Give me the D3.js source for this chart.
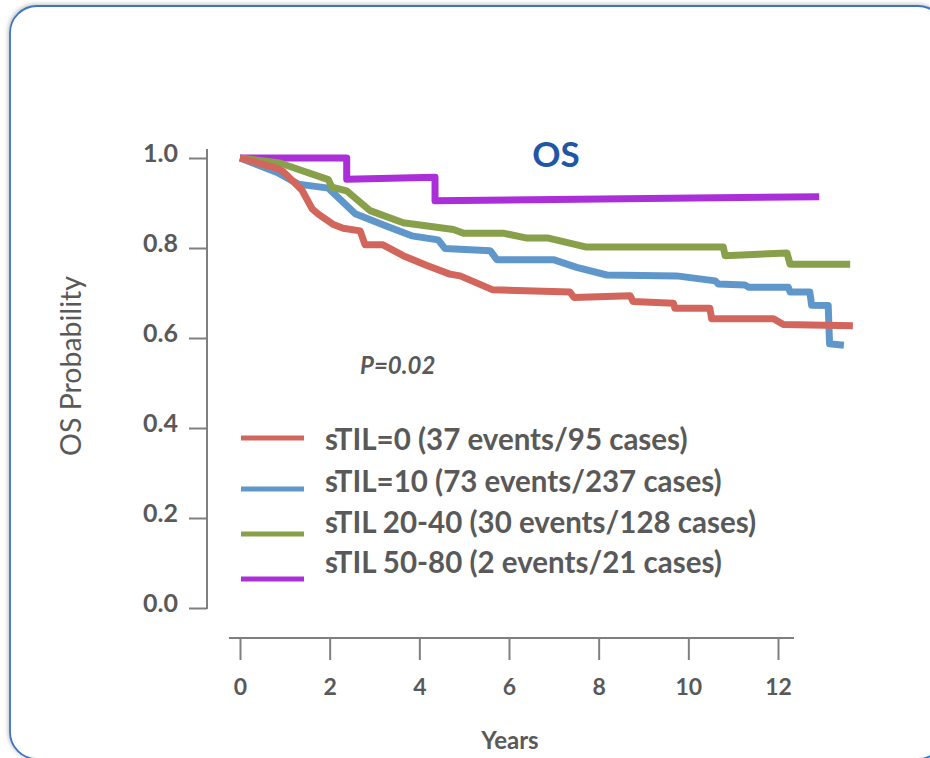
<!DOCTYPE html>
<html>
<head>
<meta charset="utf-8">
<script src="https://cdn.jsdelivr.net/npm/d3@7"></script>
<style>
  html, body { margin: 0; padding: 0; background: #ffffff; }
  svg { display: block; }
</style>
</head>
<body>
<svg id="chart" width="930" height="758"></svg>
<script>
// Kaplan-Meier overall survival by stromal TIL group: [years, OS probability]
const sTIL0 = [
  [0, 1.0], [0.83, 0.977], [0.96, 0.970], [1.38, 0.929], [1.61, 0.887], [1.74, 0.876],
  [2.07, 0.853], [2.30, 0.844], [2.68, 0.838], [2.79, 0.807], [3.19, 0.807], [3.64, 0.783],
  [4.17, 0.761], [4.68, 0.742], [4.91, 0.738], [5.64, 0.707], [7.36, 0.702], [7.45, 0.690],
  [8.70, 0.694], [8.77, 0.681], [9.67, 0.677], [9.70, 0.666], [10.48, 0.666], [10.52, 0.643],
  [11.90, 0.643], [12.12, 0.630], [13.67, 0.627]
];
const sTIL10 = [
  [0, 1.0], [0.83, 0.968], [1.30, 0.942], [1.97, 0.933], [2.57, 0.876], [3.23, 0.850],
  [3.83, 0.827], [4.42, 0.818], [4.57, 0.799], [5.58, 0.794], [5.73, 0.774], [6.99, 0.774],
  [7.51, 0.757], [8.18, 0.740], [9.74, 0.738], [10.60, 0.727], [10.67, 0.720], [11.26, 0.718],
  [11.34, 0.713], [12.23, 0.713], [12.27, 0.702], [12.71, 0.702], [12.75, 0.673], [13.12, 0.672],
  [13.15, 0.587], [13.47, 0.584]
];
const sTIL20_40 = [
  [0, 1.0], [0.89, 0.989], [1.26, 0.976], [1.97, 0.952], [2.05, 0.935], [2.38, 0.927],
  [2.90, 0.883], [3.64, 0.856], [4.76, 0.841], [4.98, 0.833], [5.87, 0.833], [6.40, 0.822],
  [6.88, 0.822], [7.73, 0.802], [10.78, 0.802], [10.82, 0.783], [12.20, 0.789], [12.27, 0.764],
  [13.61, 0.764]
];
const sTIL50_80 = [
  [0, 1.0], [2.38, 1.0], [2.38, 0.953], [4.35, 0.957], [4.35, 0.905], [12.92, 0.914]
];

const seriesLabels = [
  "sTIL=0 (37 events/95 cases)",
  "sTIL=10 (73 events/237 cases)",
  "sTIL 20-40 (30 events/128 cases)",
  "sTIL 50-80 (2 events/21 cases)"
];
const seriesColors = ["#d2665c", "#5f97ca", "#88a04a", "#ab2fd9"];
const yTickValues = [0, 0.2, 0.4, 0.6, 0.8, 1.0];
const xTickValues = [0, 2, 4, 6, 8, 10, 12];
const titleText = "OS";
const pValueText = "P=0.02";
const yTitle = "OS Probability";
const xTitle = "Years";

const svg = d3.select("#chart");
const textGray = "#595959";
const axisGray = "#7f7f7f";
const font = "Lato, 'Open Sans', sans-serif";

// panel frame with soft shadow
const defs = svg.append("defs");
const shadow = defs.append("filter").attr("id", "panelShadow")
  .attr("x", "-5%").attr("y", "-5%").attr("width", "110%").attr("height", "110%");
shadow.append("feDropShadow").attr("dx", -1).attr("dy", -1)
  .attr("stdDeviation", 2.2).attr("flood-color", "#8a8a8a").attr("flood-opacity", 0.55);

svg.append("rect")
  .attr("x", 10).attr("y", 6).attr("width", 935).attr("height", 753)
  .attr("rx", 27).attr("ry", 27)
  .attr("fill", "#ffffff").attr("stroke", "#3d74c0").attr("stroke-width", 1.8)
  .attr("filter", "url(#panelShadow)");

// scales
const x = d3.scaleLinear().domain([0, 12]).range([240, 778]);
const y = d3.scaleLinear().domain([0, 1]).range([608, 158]);

// y axis
const yAxisX = 207;
const yAxis = svg.append("g").attr("transform", `translate(${yAxisX},0)`)
  .call(d3.axisLeft(y).tickValues(yTickValues).tickFormat(d3.format(".1f"))
    .tickSize(18).tickPadding(11));
yAxis.select(".domain").remove();
yAxis.selectAll(".tick line").attr("stroke", axisGray).attr("stroke-width", 2);
yAxis.selectAll(".tick text")
  .attr("fill", textGray).attr("font-family", font).attr("font-weight", 700)
  .attr("font-size", 25).attr("dy", "0.14em");
yAxis.append("line")
  .attr("x1", 0).attr("x2", 0).attr("y1", 149).attr("y2", y(0) + 1)
  .attr("stroke", axisGray).attr("stroke-width", 2);

// x axis
const xAxisY = 638;
const xAxis = svg.append("g").attr("transform", `translate(0,${xAxisY})`)
  .call(d3.axisBottom(x).tickValues(xTickValues).tickFormat(d3.format("d"))
    .tickSize(22).tickPadding(19));
xAxis.select(".domain").remove();
xAxis.selectAll(".tick line").attr("stroke", axisGray).attr("stroke-width", 2);
xAxis.selectAll(".tick text")
  .attr("fill", textGray).attr("font-family", font).attr("font-weight", 700)
  .attr("font-size", 23);
xAxis.append("line")
  .attr("x1", x(0) - 11).attr("x2", x(12) + 16).attr("y1", 0).attr("y2", 0)
  .attr("stroke", axisGray).attr("stroke-width", 2);

// axis titles
svg.append("text")
  .attr("transform", "translate(70,366) rotate(-90)")
  .attr("text-anchor", "middle").attr("dominant-baseline", "central")
  .attr("fill", textGray).attr("font-family", font).attr("font-size", 28.5)
  .text(yTitle);
svg.append("text")
  .attr("x", 510).attr("y", 749)
  .attr("text-anchor", "middle")
  .attr("fill", textGray).attr("font-family", font).attr("font-weight", 700)
  .attr("font-size", 24)
  .text(xTitle);

// title and p-value
svg.append("text")
  .attr("x", 556).attr("y", 167)
  .attr("text-anchor", "middle")
  .attr("fill", "#2156a5").attr("font-family", font).attr("font-weight", 700)
  .attr("font-size", 35)
  .text(titleText);
svg.append("text")
  .attr("x", 360).attr("y", 374)
  .attr("fill", textGray).attr("font-family", font).attr("font-weight", 700)
  .attr("font-style", "italic").attr("font-size", 24)
  .text(pValueText);

// survival curves
const line = d3.line().x(d => x(d[0])).y(d => y(d[1]));
const curves = [sTIL50_80, sTIL10, sTIL20_40, sTIL0];
const curveColors = [seriesColors[3], seriesColors[1], seriesColors[2], seriesColors[0]];
svg.append("g").selectAll("path").data(curves).join("path")
  .attr("d", line)
  .attr("fill", "none")
  .attr("stroke", (d, i) => curveColors[i])
  .attr("stroke-width", 7)
  .attr("stroke-linejoin", "round")
  .attr("stroke-linecap", "butt");

// legend
const legendLineY = [438, 489, 534, 579];
const legendTextY = [438, 480, 521, 561];
const legend = svg.append("g");
legend.selectAll("line").data(seriesLabels).join("line")
  .attr("x1", 241).attr("x2", 304)
  .attr("y1", (d, i) => legendLineY[i]).attr("y2", (d, i) => legendLineY[i])
  .attr("stroke", (d, i) => seriesColors[i]).attr("stroke-width", 5);
legend.selectAll("text").data(seriesLabels).join("text")
  .attr("x", 325).attr("y", (d, i) => legendTextY[i])
  .attr("dominant-baseline", "central")
  .attr("fill", textGray).attr("font-family", font).attr("font-weight", 700)
  .attr("font-size", 29.5)
  .text(d => d);
</script>
</body>
</html>
